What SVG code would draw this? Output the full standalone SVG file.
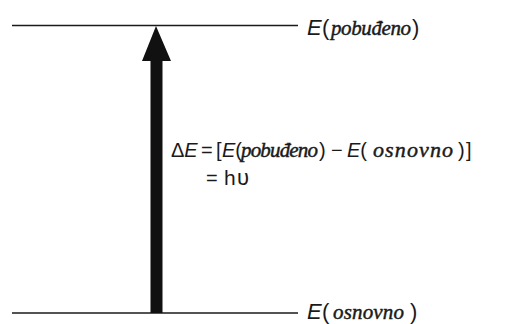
<svg xmlns="http://www.w3.org/2000/svg" width="508" height="324" viewBox="0 0 508 324">
<style>
.lvl{stroke:#1a1a1a;stroke-width:1.6;fill:none}
.s{font-family:"Liberation Sans",Arial,sans-serif;fill:#1a1a1a}
.it{font-style:italic}
.w{font-family:"Liberation Serif","Times New Roman",serif;font-style:italic;font-weight:normal;fill:#1a1a1a;stroke:#1a1a1a;stroke-width:0.45}
</style>
<rect width="508" height="324" fill="#ffffff"/>
<g id="level-excited">
<line class="lvl" x1="12" y1="25.5" x2="298" y2="25.5"/>
<text class="s it" x="307" y="35" font-size="22">E</text>
<text class="s" x="322" y="35" font-size="22">(</text>
<text class="w" x="331" y="35" font-size="21" textLength="80" lengthAdjust="spacing">pobuđeno</text>
<text class="s" x="412" y="35" font-size="22">)</text>
</g>
<g id="level-ground">
<line class="lvl" x1="12" y1="313" x2="298" y2="313"/>
<text class="s it" x="307" y="319" font-size="22">E</text>
<text class="s" x="322" y="319" font-size="22">(</text>
<text class="w" x="333" y="319" font-size="21" textLength="71" lengthAdjust="spacing">osnovno</text>
<text class="s" x="410" y="319" font-size="22">)</text>
</g>
<g id="connectors">
<polygon fill="#111" points="156,26 171,61 162.5,61 162.5,313 150.5,313 150.5,61 142,61"/>
</g>
<g id="equation">
<text class="s" y="157" font-size="20"><tspan x="171">Δ</tspan><tspan class="it">E</tspan><tspan x="201">=</tspan><tspan x="216">[</tspan><tspan x="222" class="it">E</tspan><tspan>(</tspan></text>
<text class="w" x="241" y="157" font-size="21" textLength="77" lengthAdjust="spacing">pobuđeno</text>
<text class="s" y="157" font-size="20"><tspan x="319">)</tspan><tspan x="331">−</tspan><tspan x="347" class="it">E</tspan><tspan>(</tspan></text>
<text class="w" x="373" y="157" font-size="22" textLength="80" lengthAdjust="spacing">osnovno</text>
<text class="s" y="157" font-size="20"><tspan x="458">)</tspan><tspan x="466">]</tspan></text>
<text class="s" y="185" font-size="20"><tspan x="206">=</tspan><tspan x="224" font-size="21">h</tspan><tspan x="237" font-size="22">υ</tspan></text>
</g>
</svg>
